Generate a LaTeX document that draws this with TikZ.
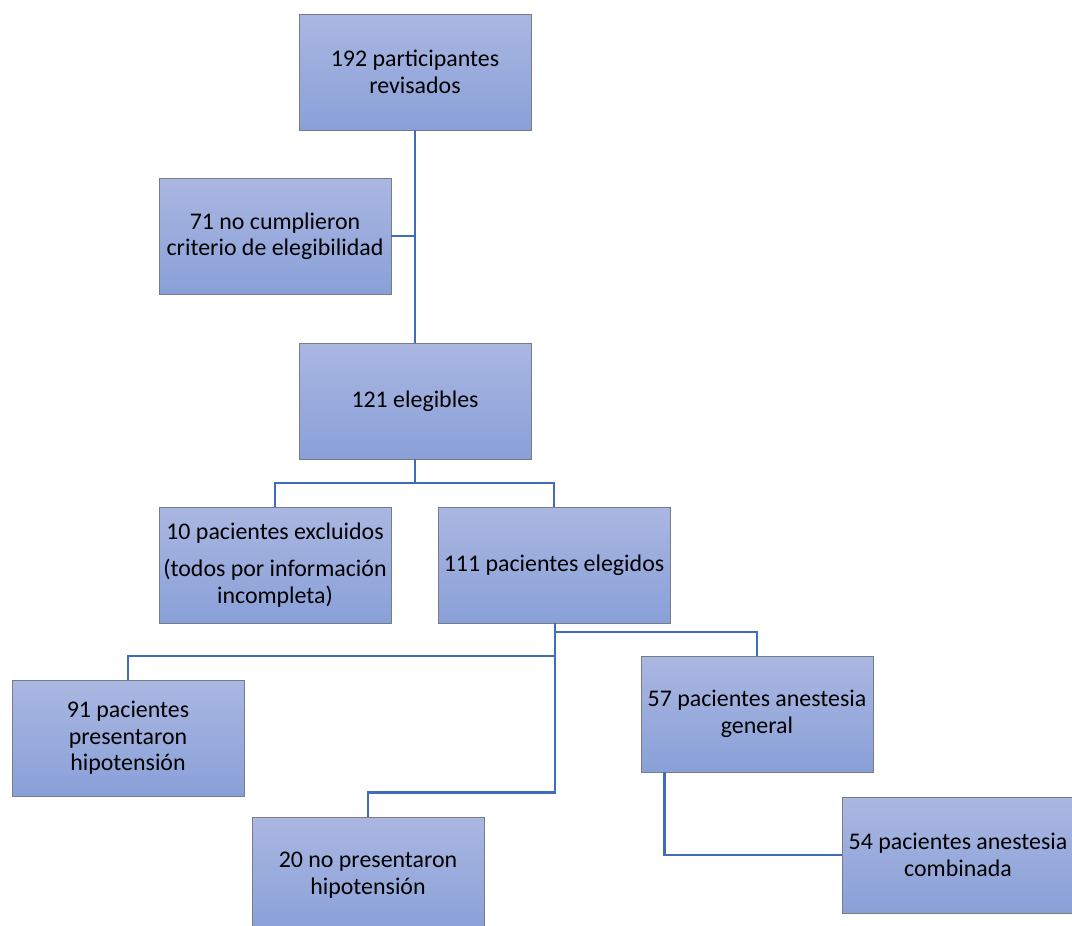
\documentclass[tikz,border=0pt]{standalone}
\usepackage{fontspec}
\setmainfont{Carlito}
\usetikzlibrary{positioning}
\definecolor{boxtop}{RGB}{170,183,225}
\definecolor{boxbot}{RGB}{137,160,216}
\definecolor{linkblue}{RGB}{64,108,186}
\definecolor{boxline}{RGB}{120,124,135}

\begin{document}
\begin{tikzpicture}[x=0.02cm,y=-0.02cm,font=\fontsize{13.6}{15}\selectfont,
  box/.style={draw=boxline,line width=0.5pt,top color=boxtop,bottom color=boxbot,
    minimum width=4.64cm,minimum height=2.32cm,align=center,inner sep=2pt},
  link/.style={draw=linkblue,line width=1.5pt}]
  \path[use as bounding box,clip] (0,0) rectangle (1072,926);
  \node[box] (rev) at (415,72) {192 participantes\\revisados};
  \node[box] (noel) at (275,236) {71 no cumplieron\\criterio de elegibilidad};
  \node[box] (eleg) at (415,401) {121 elegibles};
  \node[box] (excl) at (275,565) {10 pacientes excluidos\\[6pt](todos por información\\incompleta)};
  \node[box] (elig) at (554,565) {111 pacientes elegidos};
  \node[box] (hipo) at (128,738) {91 pacientes\\presentaron\\hipotensión};
  \node[box] (nohipo) at (368,875) {20 no presentaron\\hipotensión};
  \node[box] (gen) at (757,714) {57 pacientes anestesia\\general};
  \node[box] (comb) at (958,855) {54 pacientes anestesia\\combinada};
  \coordinate (j1) at (415,483);
  \coordinate (j2) at (555,632);
  \coordinate (j3) at (555,656);
  \draw[link] (rev) -- (eleg);
  \draw[link] (noel.east) -- (noel.east -| rev);
  \draw[link] (eleg) -- (j1);
  \draw[link] (excl) |- (j1) -| (elig);
  \draw[link] (elig.south -| j2) -- ++(0,169) -| (nohipo);
  \draw[link] (j2) -| (gen);
  \draw[link] (j3) -| (hipo);
  \draw[link] ([xshift=0.48cm]gen.south west) |- (comb);
\end{tikzpicture}
\end{document}
